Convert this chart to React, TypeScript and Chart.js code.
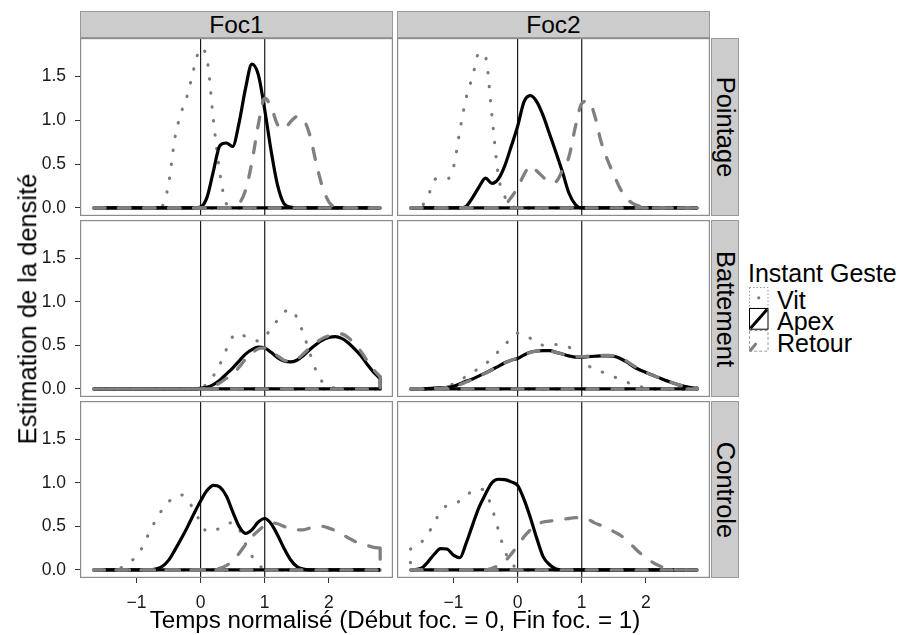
import React, { useEffect, useRef } from "react";
import { Chart, registerables } from "chart.js";

Chart.register(...registerables);

// ---------- DATA ----------
const COL_FACETS = ["Foc1", "Foc2"];
const ROW_FACETS = ["Pointage", "Battement", "Controle"];
const SERIES_NAMES = ["Vit", "Apex", "Retour"];
const LEGEND_TITLE = "Instant Geste";
const X_TITLE = "Temps normalisé (Début foc. = 0, Fin foc. = 1)";
const Y_TITLE = "Estimation de la densité";
const X_TICKS = [-1, 0, 1, 2];
const Y_TICKS = [0, 0.5, 1, 1.5];
const VLINES = [0, 1];

// shared evaluation grid of the density estimates
const X = [-1.67, -1.6, -1.5, -1.4, -1.3, -1.2, -1.1, -1.0, -0.9, -0.8, -0.7, -0.6, -0.5, -0.4, -0.3, -0.2, -0.1,
  0.0, 0.1, 0.2, 0.3, 0.4, 0.5, 0.6, 0.7, 0.8, 0.9, 1.0, 1.1, 1.2, 1.3, 1.4, 1.5, 1.6, 1.7, 1.8, 1.9, 2.0,
  2.1, 2.2, 2.3, 2.4, 2.5, 2.6, 2.7, 2.8];

const vitPointageFoc1 = [
  0, 0, 0, 0, 0, 0, 0, 0, 0, 0, 0,
  0.02, 0.27, 0.80, 1.09, 1.30, 1.60, 1.82, 1.70, 1.00, 0.40, 0.05, 0.01,
  0, 0, 0, 0, 0, 0, 0, 0, 0, 0, 0, 0, 0, 0, 0, 0, 0, 0, 0, 0, 0, 0, 0];
const apexPointageFoc1 = [
  0, 0, 0, 0, 0, 0, 0, 0, 0, 0, 0, 0, 0, 0, 0, 0, 0,
  0.01, 0.12, 0.42, 0.71, 0.74, 0.70, 0.97, 1.36, 1.64, 1.52, 1.12, 0.65, 0.26, 0.05, 0.01,
  0, 0, 0, 0, 0, 0, 0, 0, 0, 0, 0, 0, 0, 0];
const retourPointageFoc1 = [
  0, 0, 0, 0, 0, 0, 0, 0, 0, 0, 0, 0, 0, 0, 0, 0, 0, 0, 0, 0, 0, 0,
  0.01, 0.05, 0.20, 0.52, 0.95, 1.25, 1.15, 0.95, 0.90, 0.98, 1.04, 1.01, 0.84, 0.52, 0.24, 0.07, 0.01,
  0, 0, 0, 0, 0, 0, 0];

const vitPointageFoc2 = [
  0, 0, 0.02, 0.12, 0.32, 0.34, 0.33, 0.46, 0.88, 1.26, 1.50, 1.77, 1.72, 1.05, 0.37, 0.13, 0.03,
  0, 0, 0, 0, 0, 0, 0, 0, 0, 0, 0, 0, 0, 0, 0, 0, 0, 0, 0, 0, 0, 0, 0, 0, 0, 0, 0, 0, 0];
const apexPointageFoc2 = [
  0, 0, 0, 0, 0, 0, 0, 0, 0,
  0.02, 0.12, 0.24, 0.34, 0.28, 0.33, 0.48, 0.70, 0.93, 1.21, 1.28, 1.21, 1.05, 0.84, 0.63, 0.41, 0.17, 0.04,
  0, 0, 0, 0, 0, 0, 0, 0, 0, 0, 0, 0, 0, 0, 0, 0, 0, 0, 0];
const retourPointageFoc2 = [
  0, 0, 0, 0, 0, 0, 0, 0, 0, 0, 0, 0, 0, 0, 0,
  0.03, 0.12, 0.23, 0.38, 0.48, 0.42, 0.35, 0.29, 0.30, 0.43, 0.58, 0.92, 1.19, 1.22, 1.06, 0.76, 0.55, 0.38, 0.22, 0.11, 0.05, 0.02,
  0, 0, 0, 0, 0, 0, 0, 0, 0];

const vitBattementFoc1 = [
  0, 0, 0, 0, 0, 0, 0, 0, 0, 0, 0, 0, 0, 0, 0, 0, 0,
  0.01, 0.06, 0.15, 0.28, 0.45, 0.60, 0.64, 0.60, 0.57, 0.55, 0.60, 0.69, 0.79, 0.88, 0.91, 0.82, 0.64, 0.42, 0.21, 0.08, 0.03, 0.01,
  0, 0, 0, 0, 0, 0, 0];
const apexBattementFoc1 = [
  0, 0, 0, 0, 0, 0, 0, 0, 0, 0, 0, 0, 0, 0, 0, 0, 0,
  0.01, 0.02, 0.05, 0.10, 0.17, 0.24, 0.32, 0.40, 0.45, 0.48, 0.47, 0.42, 0.36, 0.32, 0.31,
  0.33, 0.38, 0.45, 0.51, 0.56, 0.59, 0.60, 0.58, 0.53, 0.46, 0.38, 0.28, 0.19, 0.12];
const retourBattementFoc1 = [
  0, 0, 0, 0, 0, 0, 0, 0, 0, 0, 0, 0, 0, 0, 0, 0, 0, 0,
  0.01, 0.03, 0.07, 0.12, 0.17, 0.25, 0.34, 0.41, 0.46, 0.47, 0.43, 0.38, 0.33, 0.32,
  0.34, 0.40, 0.47, 0.53, 0.58, 0.61, 0.63, 0.63, 0.59, 0.52, 0.43, 0.32, 0.22, 0.14];

const vitBattementFoc2 = [
  0, 0, 0, 0, 0,
  0.01, 0.03, 0.06, 0.10, 0.145, 0.19, 0.24, 0.29, 0.35, 0.43, 0.50, 0.59, 0.64, 0.63, 0.58,
  0.53, 0.50, 0.49, 0.51, 0.50, 0.48, 0.43, 0.34, 0.27, 0.22, 0.20, 0.17, 0.14, 0.11, 0.08, 0.05, 0.03, 0.01,
  0, 0, 0, 0, 0, 0, 0, 0];
const apexBattementFoc2 = [
  0, 0, 0, 0.005, 0.01, 0.015, 0.02, 0.03, 0.06, 0.09, 0.115, 0.15, 0.185, 0.22, 0.26, 0.30, 0.33,
  0.35, 0.39, 0.42, 0.435, 0.44, 0.44, 0.42, 0.40, 0.38, 0.365, 0.365, 0.37, 0.375, 0.38, 0.38, 0.375,
  0.35, 0.31, 0.26, 0.22, 0.19, 0.16, 0.13, 0.10, 0.075, 0.05, 0.03, 0.015, 0.01];
const retourBattementFoc2 = [
  0, 0, 0, 0, 0.005, 0.01, 0.015, 0.025, 0.05, 0.08, 0.11, 0.145, 0.18, 0.22, 0.26, 0.30, 0.33,
  0.355, 0.39, 0.42, 0.435, 0.44, 0.435, 0.42, 0.40, 0.38, 0.37, 0.37, 0.375, 0.38, 0.385, 0.385, 0.38,
  0.355, 0.32, 0.27, 0.23, 0.19, 0.16, 0.13, 0.10, 0.075, 0.05, 0.03, 0.02, 0.01];

const vitControleFoc1 = [
  0, 0, 0, 0,
  0.01, 0.04, 0.09, 0.16, 0.27, 0.43, 0.57, 0.69, 0.78, 0.84, 0.86, 0.80, 0.68, 0.55, 0.44,
  0.45, 0.48, 0.53, 0.54, 0.47, 0.30, 0.16, 0.06, 0.01,
  0, 0, 0, 0, 0, 0, 0, 0, 0, 0, 0, 0, 0, 0, 0, 0, 0, 0];
const apexControleFoc1 = [
  0, 0, 0, 0, 0, 0, 0, 0, 0, 0,
  0.01, 0.04, 0.11, 0.23, 0.36, 0.50, 0.65, 0.79, 0.91, 0.97, 0.95, 0.85, 0.67, 0.50, 0.42,
  0.46, 0.55, 0.59, 0.53, 0.40, 0.25, 0.12, 0.04, 0.01,
  0, 0, 0, 0, 0, 0, 0, 0, 0, 0, 0, 0];
const retourControleFoc1 = [
  0, 0, 0, 0, 0, 0, 0, 0, 0, 0, 0, 0, 0, 0, 0, 0, 0, 0, 0, 0,
  0.02, 0.05, 0.10, 0.19, 0.29, 0.38, 0.45, 0.51, 0.54, 0.53, 0.50, 0.47, 0.46, 0.46, 0.48,
  0.50, 0.50, 0.48, 0.45, 0.41, 0.37, 0.33, 0.30, 0.28, 0.26, 0.25];

const vitControleFoc2 = [
  0.24, 0.27, 0.32, 0.41, 0.54, 0.67, 0.74, 0.76, 0.79, 0.85, 0.91, 0.93, 0.89, 0.71, 0.46, 0.22, 0.08, 0.02,
  0, 0, 0, 0, 0, 0, 0, 0, 0, 0, 0, 0, 0, 0, 0, 0, 0, 0, 0, 0, 0, 0, 0, 0, 0, 0, 0, 0];
const apexControleFoc2 = [
  0, 0.005, 0.02, 0.09, 0.18, 0.245, 0.24, 0.17, 0.14, 0.31, 0.52, 0.72, 0.87, 1.0, 1.04, 1.035, 1.01,
  0.97, 0.81, 0.60, 0.36, 0.15, 0.06, 0.01,
  0, 0, 0, 0, 0, 0, 0, 0, 0, 0, 0, 0, 0, 0, 0, 0, 0, 0, 0, 0, 0, 0];
const retourControleFoc2 = [
  0, 0, 0, 0, 0, 0, 0, 0, 0, 0, 0, 0, 0,
  0.02, 0.05, 0.10, 0.18, 0.28, 0.38, 0.46, 0.52, 0.55, 0.56, 0.57, 0.58, 0.59, 0.60, 0.60,
  0.58, 0.54, 0.51, 0.48, 0.44, 0.40, 0.34, 0.27, 0.20, 0.14, 0.09, 0.05, 0.02, 0.01,
  0, 0, 0, 0];

// [row][col] -> [Vit, Apex, Retour]
const PANEL_DATA = [
  [[vitPointageFoc1, apexPointageFoc1, retourPointageFoc1], [vitPointageFoc2, apexPointageFoc2, retourPointageFoc2]],
  [[vitBattementFoc1, apexBattementFoc1, retourBattementFoc1], [vitBattementFoc2, apexBattementFoc2, retourBattementFoc2]],
  [[vitControleFoc1, apexControleFoc1, retourControleFoc1], [vitControleFoc2, apexControleFoc2, retourControleFoc2]],
];

// ---------- LAYOUT / STYLE ----------
const FONT = "'Liberation Sans', Arial, Helvetica, sans-serif";
const X_MIN = -1.88, X_MAX = 3.0;
const Y_MIN = -0.092, Y_MAX = 1.937;
const COL_LEFT = [80, 397];
const PANEL_W = 313;
const ROW_TOP = [38, 220, 401];
const ROW_H = [178, 177, 177];
const Y_AXIS_W = 80;
const X_AXIS_H = 42;
const STRIP_TOP = 11;
const STRIP_H = 27;
const RSTRIP_LEFT = 711;
const RSTRIP_W = 28;
const STRIP_FONT = 24.5;
const RSTRIP_FONT = 25.5;
const XTITLE_FONT = 24.2;
const YTITLE_FONT = 25.5;
const LEGEND_FONT = 25;

const STYLES = [
  { color: "#7a7a7a", width: 3.1, dash: [0.4, 13.6], cap: "round", order: 2 },
  { color: "#000000", width: 3.2, dash: [], cap: "butt", order: 1 },
  { color: "#808080", width: 3.3, dash: [11, 14], cap: "round", order: 0 },
];

const fmtX = (v: number) => (v < 0 ? "\u2212" + Math.abs(v) : String(v));
const fmtY = (v: number) => v.toFixed(1);

const panelPlugin = {
  id: "panelDeco",
  beforeDatasetsDraw(chart: any) {
    const { ctx, chartArea: a, scales } = chart;
    ctx.save();
    ctx.beginPath();
    ctx.rect(a.left, a.top, a.right - a.left, a.bottom - a.top);
    ctx.clip();
    ctx.strokeStyle = "#1a1a1a";
    ctx.lineWidth = 1.2;
    VLINES.forEach((v) => {
      const px = scales.x.getPixelForValue(v);
      ctx.beginPath();
      ctx.moveTo(px, a.top);
      ctx.lineTo(px, a.bottom);
      ctx.stroke();
    });
    ctx.restore();
  },
  afterDraw(chart: any) {
    const { ctx, chartArea: a } = chart;
    ctx.save();
    ctx.strokeStyle = "#8c8c8c";
    ctx.lineWidth = 1.2;
    ctx.strokeRect(a.left + 0.6, a.top + 0.6, a.right - a.left - 1.2, a.bottom - a.top - 1.2);
    ctx.restore();
  },
};

function Panel({ row, col }: { row: number; col: number }) {
  const ref = useRef<HTMLCanvasElement>(null);
  const showY = col === 0;
  const showX = row === ROW_FACETS.length - 1;
  const extraL = showY ? Y_AXIS_W : 0;
  const extraB = showX ? X_AXIS_H : 0;
  const w = PANEL_W + extraL;
  const h = ROW_H[row] + extraB;

  useEffect(() => {
    const series = PANEL_DATA[row][col];
    const datasets: any[] = [];
    series.forEach((vals, s) => {
      const st = STYLES[s];
      const curve = X.map((x, i) => ({ x, y: vals[i] ?? 0 }));
      const n = X.length - 1;
      const closing = [
        { x: X[n], y: vals[n] ?? 0 },
        { x: X[n], y: 0 },
        { x: X[0], y: 0 },
        { x: X[0], y: vals[0] ?? 0 },
      ];
      const common = {
        borderColor: st.color,
        borderWidth: st.width,
        borderDash: st.dash,
        borderCapStyle: st.cap,
        borderJoinStyle: "round",
        pointRadius: 0,
        fill: false,
        order: st.order,
      };
      datasets.push({ ...common, label: SERIES_NAMES[s], data: curve, cubicInterpolationMode: "monotone" });
      datasets.push({ ...common, label: SERIES_NAMES[s] + " base", data: closing, tension: 0 });
    });

    const tickFont = { family: FONT, size: 17.5 };
    const chart = new Chart(ref.current!, {
      type: "line",
      data: { datasets },
      options: {
        animation: false,
        responsive: false,
        maintainAspectRatio: false,
        events: [],
        layout: { padding: 0 },
        plugins: { legend: { display: false }, tooltip: { enabled: false }, title: { display: false } },
        scales: {
          x: {
            type: "linear",
            min: X_MIN,
            max: X_MAX,
            display: showX,
            afterBuildTicks: (s: any) => { s.ticks = X_TICKS.map((v) => ({ value: v })); },
            afterFit: (s: any) => {
              s.height = showX ? X_AXIS_H : 0;
              s.paddingLeft = 0; s.paddingRight = 0; s.paddingTop = 0; s.paddingBottom = 0;
            },
            grid: { drawOnChartArea: false, drawTicks: true, tickLength: 5, color: "#333333", lineWidth: 1 },
            border: { display: false },
            ticks: { padding: 10, font: tickFont, color: "#1a1a1a", autoSkip: false, maxRotation: 0, callback: (v: any) => fmtX(Number(v)) },
          },
          y: {
            type: "linear",
            min: Y_MIN,
            max: Y_MAX,
            display: showY,
            afterBuildTicks: (s: any) => { s.ticks = Y_TICKS.map((v) => ({ value: v })); },
            afterFit: (s: any) => {
              s.width = showY ? Y_AXIS_W : 0;
              s.paddingTop = 0; s.paddingBottom = 0; s.paddingLeft = 0; s.paddingRight = 0;
            },
            grid: { drawOnChartArea: false, drawTicks: true, tickLength: 5, color: "#333333", lineWidth: 1 },
            border: { display: false },
            ticks: { padding: 9, font: tickFont, color: "#1a1a1a", autoSkip: false, callback: (v: any) => fmtY(Number(v)) },
          },
        },
      } as any,
      plugins: [panelPlugin],
    } as any);
    return () => chart.destroy();
  }, [row, col]);

  return (
    <canvas
      ref={ref}
      width={w}
      height={h}
      style={{ position: "absolute", left: COL_LEFT[col] - extraL, top: ROW_TOP[row], width: w, height: h }}
    />
  );
}

function LegendKey({ kind, top }: { kind: number; top: number }) {
  const kw = 19.5, kh = 21.7;
  let inner: any = null;
  let rectStroke = "#9a9a9a";
  let rectDash = "1.5 2";
  if (kind === 0) {
    inner = <circle cx={kw / 2} cy={kh / 2} r={1.6} fill="#7a7a7a" />;
  } else if (kind === 1) {
    rectStroke = "#000";
    rectDash = "";
    inner = <line x1={1.5} y1={kh - 1.5} x2={kw - 1.5} y2={1.5} stroke="#000" strokeWidth={3} />;
  } else {
    rectDash = "3 2";
    inner = <line x1={1.5} y1={kh - 1.5} x2={6.5} y2={kh - 7.5} stroke="#808080" strokeWidth={3} strokeLinecap="round" />;
  }
  return (
    <svg width={kw} height={kh} style={{ position: "absolute", left: 749, top }}>
      <rect x={0.5} y={0.5} width={kw - 1} height={kh - 1} fill="#fff" stroke={rectStroke} strokeWidth={1} strokeDasharray={rectDash || undefined} />
      {inner}
    </svg>
  );
}

export default function App() {
  const panels: any[] = [];
  ROW_FACETS.forEach((_, r) => COL_FACETS.forEach((__, c) => panels.push(<Panel key={`${r}-${c}`} row={r} col={c} />)));

  const text = (content: string, cx: number, cy: number, size: number, rotate = 0, key?: string) => (
    <div
      key={key}
      style={{
        position: "absolute",
        left: cx,
        top: cy,
        transform: `translate(-50%, -50%) rotate(${rotate}deg)`,
        fontSize: size,
        lineHeight: `${size}px`,
        whiteSpace: "nowrap",
        fontFamily: FONT,
        color: "#000",
      }}
    >
      {content}
    </div>
  );

  return (
    <div style={{ position: "absolute", left: 0, top: 0, width: 904, height: 635, background: "#fff", overflow: "hidden", fontFamily: FONT }}>
      {panels}
      {COL_FACETS.map((f, c) => (
        <div key={f} style={{ position: "absolute", left: COL_LEFT[c], top: STRIP_TOP, width: PANEL_W, height: STRIP_H, background: "#cccccc", border: "1px solid #999", boxSizing: "border-box" }} />
      ))}
      {COL_FACETS.map((f, c) => text(f, COL_LEFT[c] + PANEL_W / 2, STRIP_TOP + STRIP_H / 2 + 0.5, STRIP_FONT, 0, "t" + f))}
      {ROW_FACETS.map((f, r) => (
        <div key={f} style={{ position: "absolute", left: RSTRIP_LEFT, top: ROW_TOP[r], width: RSTRIP_W, height: ROW_H[r], background: "#cccccc", border: "1px solid #999", boxSizing: "border-box" }} />
      ))}
      {ROW_FACETS.map((f, r) => text(f, RSTRIP_LEFT + RSTRIP_W / 2, ROW_TOP[r] + ROW_H[r] / 2, RSTRIP_FONT, 90, "r" + f))}
      {text(X_TITLE, 395, 620, XTITLE_FONT, 0, "xt")}
      {text(Y_TITLE, 28, 309, YTITLE_FONT, -90, "yt")}
      <div style={{ position: "absolute", left: 748, top: 273.4, transform: "translateY(-50%)", fontSize: LEGEND_FONT, lineHeight: `${LEGEND_FONT}px`, whiteSpace: "nowrap" }}>{LEGEND_TITLE}</div>
      {SERIES_NAMES.map((name, i) => {
        const top = 286.5 + 21.7 * i;
        return (
          <React.Fragment key={name}>
            <LegendKey kind={i} top={top} />
            <div style={{ position: "absolute", left: 777, top: top + 13, transform: "translateY(-50%)", fontSize: LEGEND_FONT, lineHeight: `${LEGEND_FONT}px`, whiteSpace: "nowrap" }}>{name}</div>
          </React.Fragment>
        );
      })}
    </div>
  );
}
